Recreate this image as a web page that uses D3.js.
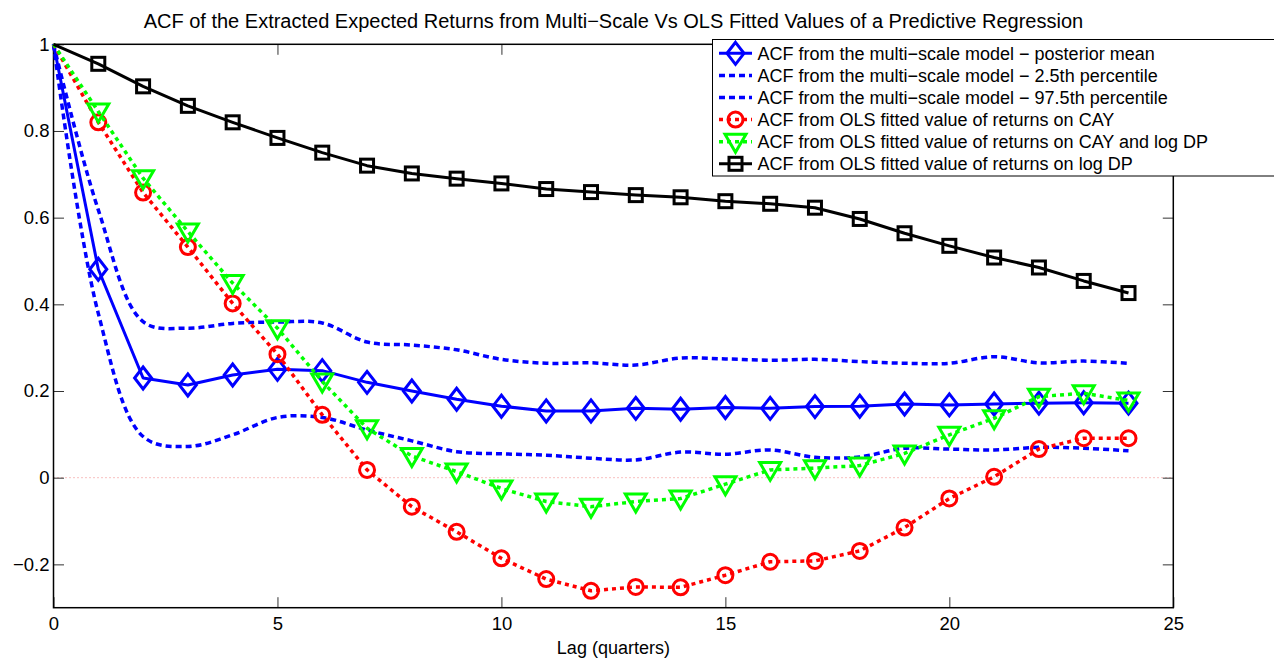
<!DOCTYPE html>
<html>
<head>
<meta charset="utf-8">
<script src="https://cdn.jsdelivr.net/npm/d3@7"></script>
<style>
  body { margin: 0; background: #fff; }
  svg { display: block; font-family: "Liberation Sans", Arial, Helvetica, sans-serif; }
</style>
</head>
<body>
<svg id="chart" width="1274" height="660"></svg>
<script>
// lags in quarters
var lags = [0, 1, 2, 3, 4, 5, 6, 7, 8, 9, 10, 11, 12, 13, 14, 15, 16, 17, 18, 19, 20, 21, 22, 23, 24];

var postMean = [1, 0.481, 0.230, 0.214, 0.237, 0.250, 0.247, 0.220, 0.200, 0.181, 0.165, 0.154, 0.154,
  0.160, 0.158, 0.162, 0.160, 0.164, 0.165, 0.170, 0.168, 0.170, 0.172, 0.173, 0.172];
var pct2_5 = [1, 0.379, 0.095, 0.072, 0.099, 0.139, 0.139, 0.110, 0.085, 0.060, 0.055, 0.052, 0.045,
  0.041, 0.059, 0.054, 0.064, 0.047, 0.048, 0.068, 0.066, 0.064, 0.070, 0.068, 0.062];
var pct97_5 = [1, 0.618, 0.360, 0.345, 0.356, 0.359, 0.357, 0.313, 0.306, 0.295, 0.273, 0.264, 0.265,
  0.260, 0.276, 0.274, 0.271, 0.273, 0.268, 0.264, 0.264, 0.279, 0.265, 0.269, 0.264];
var olsCAY = [1, 0.820, 0.658, 0.532, 0.402, 0.285, 0.145, 0.018, -0.067, -0.125, -0.186, -0.234, -0.261,
  -0.252, -0.253, -0.225, -0.194, -0.192, -0.169, -0.115, -0.048, 0.002, 0.066, 0.091, 0.091];
var olsCAYDP = [1, 0.845, 0.691, 0.568, 0.449, 0.345, 0.222, 0.114, 0.050, 0.014, -0.025, -0.055, -0.067,
  -0.055, -0.048, -0.015, 0.018, 0.022, 0.028, 0.056, 0.099, 0.137, 0.187, 0.195, 0.178];
var olsDP = [1, 0.955, 0.903, 0.858, 0.820, 0.784, 0.750, 0.720, 0.702, 0.690, 0.679, 0.666, 0.659,
  0.652, 0.647, 0.638, 0.632, 0.623, 0.597, 0.564, 0.535, 0.508, 0.485, 0.454, 0.426];

var xTicks = [0, 5, 10, 15, 20, 25];
var yTicks = [-0.2, 0, 0.2, 0.4, 0.6, 0.8, 1];

var titleText = "ACF of the Extracted Expected Returns from Multi\u2212Scale Vs OLS Fitted Values of a Predictive Regression";
var xLabel = "Lag (quarters)";

var series = [
  { name: "ACF from the multi\u2212scale model \u2212 posterior mean", values: postMean, color: "#0000ff", dash: null, marker: "diamond", smooth: false },
  { name: "ACF from the multi\u2212scale model \u2212 2.5th percentile", values: pct2_5, color: "#0000ff", dash: "6,4", marker: null, smooth: true },
  { name: "ACF from the multi\u2212scale model \u2212 97.5th percentile", values: pct97_5, color: "#0000ff", dash: "6,4", marker: null, smooth: true },
  { name: "ACF from OLS fitted value of returns on CAY", values: olsCAY, color: "#ff0000", dash: "4,4", marker: "circle", smooth: false },
  { name: "ACF from OLS fitted value of returns on CAY and log DP", values: olsCAYDP, color: "#00ff00", dash: "4,4", marker: "triangle", smooth: false },
  { name: "ACF from OLS fitted value of returns on log DP", values: olsDP, color: "#000000", dash: null, marker: "square", smooth: false }
];

var svg = d3.select("#chart");
var mLeft = 53.5, mRight = 1173.3, mTop = 44.3, mBottom = 607.7;

var x = d3.scaleLinear().domain([0, 25]).range([mLeft, mRight]);
var y = d3.scaleLinear().domain([-0.3, 1]).range([mBottom, mTop]);

// zero reference line
svg.append("line")
  .attr("x1", x(0)).attr("x2", x(25))
  .attr("y1", y(0)).attr("y2", y(0))
  .attr("stroke", "#f08080").attr("stroke-width", 1)
  .attr("stroke-dasharray", "1,3");

// axes
var fmt = function(d) { return d3.format("")(d).replace("-", "\u2212"); };

var gx = svg.append("g").attr("transform", "translate(0," + mBottom + ")")
  .call(d3.axisBottom(x).tickValues(xTicks).tickSize(-10.5).tickPadding(9).tickFormat(fmt));
var gxt = svg.append("g").attr("transform", "translate(0," + mTop + ")")
  .call(d3.axisTop(x).tickValues(xTicks).tickSize(-10.5).tickFormat(""));
var gy = svg.append("g").attr("transform", "translate(" + mLeft + ",0)")
  .call(d3.axisLeft(y).tickValues(yTicks).tickSize(-10.5).tickPadding(4).tickFormat(fmt));
var gyr = svg.append("g").attr("transform", "translate(" + mRight + ",0)")
  .call(d3.axisRight(y).tickValues(yTicks).tickSize(-10.5).tickFormat(""));

[gx, gxt, gy, gyr].forEach(function(g) {
  g.select(".domain").remove();
  g.selectAll(".tick line").attr("stroke", "#333").attr("stroke-width", 1);
  g.selectAll("text").attr("font-size", 18.5).attr("fill", "#000")
    .attr("font-family", "Liberation Sans, Arial, sans-serif");
});

svg.append("rect")
  .attr("x", mLeft).attr("y", mTop)
  .attr("width", mRight - mLeft).attr("height", mBottom - mTop)
  .attr("fill", "none").attr("stroke", "#000").attr("stroke-width", 1.5);

// marker drawing
function drawMarker(g, type, cx, cy, color) {
  if (type === "diamond") {
    g.append("path")
      .attr("d", "M" + cx + "," + (cy - 11) + "L" + (cx + 8.5) + "," + cy + "L" + cx + "," + (cy + 11) + "L" + (cx - 8.5) + "," + cy + "Z")
      .attr("fill", "none").attr("stroke", color).attr("stroke-width", 3);
  } else if (type === "circle") {
    g.append("circle").attr("cx", cx).attr("cy", cy).attr("r", 7.5)
      .attr("fill", "none").attr("stroke", color).attr("stroke-width", 3);
  } else if (type === "triangle") {
    g.append("path")
      .attr("d", "M" + (cx - 10.5) + "," + (cy - 7.5) + "L" + (cx + 10.5) + "," + (cy - 7.5) + "L" + cx + "," + (cy + 10.5) + "Z")
      .attr("fill", "none").attr("stroke", color).attr("stroke-width", 3);
  } else if (type === "square") {
    g.append("rect").attr("x", cx - 6.5).attr("y", cy - 6.5).attr("width", 13).attr("height", 13)
      .attr("fill", "none").attr("stroke", color).attr("stroke-width", 3);
  }
}

// series
series.forEach(function(s) {
  var pts = lags.map(function(l, i) { return [l, s.values[i]]; });
  var line = d3.line()
    .x(function(d) { return x(d[0]); })
    .y(function(d) { return y(d[1]); })
    .curve(s.smooth ? d3.curveCatmullRom.alpha(0.5) : d3.curveLinear);
  var g = svg.append("g");
  g.append("path").datum(pts)
    .attr("d", line)
    .attr("fill", "none")
    .attr("stroke", s.color)
    .attr("stroke-width", s.dash ? 3.5 : 3)
    .attr("stroke-dasharray", s.dash)
    .attr("stroke-linejoin", "round");
  if (s.marker) {
    pts.slice(1).forEach(function(p) {
      drawMarker(g, s.marker, x(p[0]), y(p[1]), s.color);
    });
  }
});

// title and label
svg.append("text")
  .attr("x", (mLeft + mRight) / 2).attr("y", 28)
  .attr("text-anchor", "middle").attr("font-size", 20)
  .text(titleText);

svg.append("text")
  .attr("x", (mLeft + mRight) / 2).attr("y", 654)
  .attr("text-anchor", "middle").attr("font-size", 18)
  .text(xLabel);

// legend
var lg = svg.append("g");
lg.append("rect")
  .attr("x", 712.5).attr("y", 39.5)
  .attr("width", 620).attr("height", 136.5)
  .attr("fill", "#fff").attr("stroke", "#000").attr("stroke-width", 1);

series.forEach(function(s, i) {
  var cy = 53.3 + i * 22.1;
  lg.append("line")
    .attr("x1", 719).attr("x2", 752)
    .attr("y1", cy).attr("y2", cy)
    .attr("stroke", s.color)
    .attr("stroke-width", s.dash ? 3.5 : 3)
    .attr("stroke-dasharray", s.dash);
  if (s.marker) drawMarker(lg, s.marker, 735.5, cy, s.color);
  lg.append("text")
    .attr("x", 757.5).attr("y", cy + 6.3)
    .attr("font-size", 18)
    .text(s.name);
});
</script>
</body>
</html>
